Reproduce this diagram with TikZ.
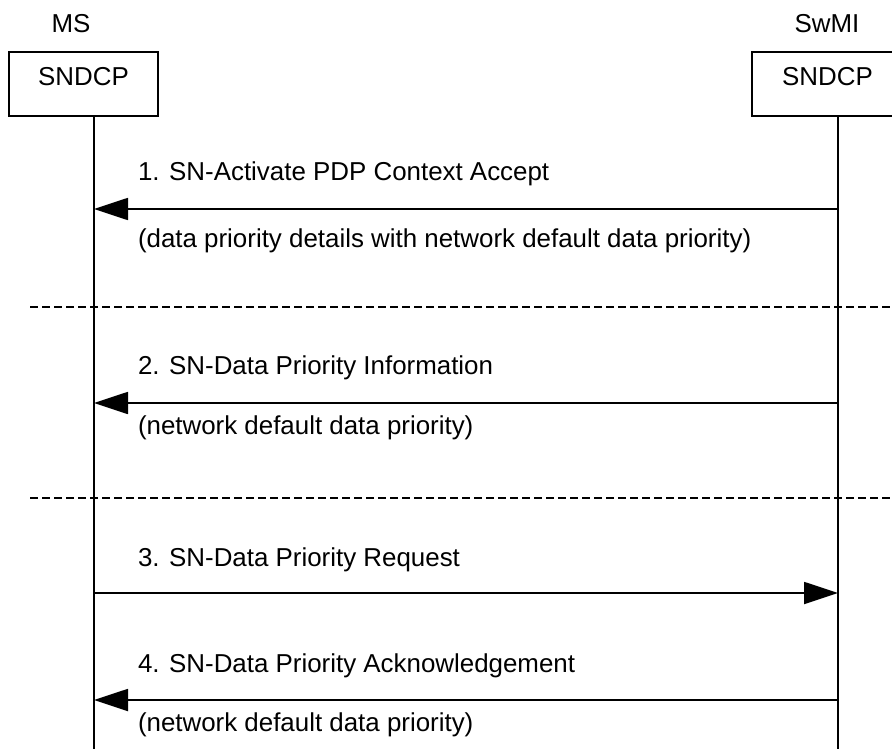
\documentclass[tikz,border=0pt]{standalone}
\usepackage{fontspec}
\setmainfont{Liberation Sans}
\usetikzlibrary{arrows.meta}
\begin{document}
\begin{tikzpicture}[x=1pt,y=-1pt,
  every node/.style={font=\fontsize{25.9}{30}\selectfont, inner sep=0pt, outer sep=0pt},
  box/.style={draw, line width=1.8pt, minimum width=149pt, minimum height=64pt},
  life/.style={line width=1.8pt},
  msg/.style={line width=1.8pt, -{Triangle[length=34pt,width=22pt]}},
  sep/.style={line width=1.5pt, dash pattern=on 8pt off 4pt},
  lbl/.style={anchor=base west}
]
\useasboundingbox (0,0) rectangle (892,749);

% entity titles
\node[anchor=base] (ms) at (71,33) {MS};
\node[anchor=base] (swmi) at (827,33) {SwMI};

% boxes
\node[box] (msbox) at (83.5,84) {};
\node[anchor=base] (mstxt) at (83.5,86) {SNDCP};
\node[box] (swbox) at (826.5,84) {};
\node[anchor=base] (swtxt) at (827.5,86) {SNDCP};

% lifelines
\coordinate (msx) at (94,0);
\coordinate (swx) at (838,0);
\coordinate (mstop) at (msbox.south -| msx);
\coordinate (swtop) at (swbox.south -| swx);
\coordinate (msbot) at (94,760);
\coordinate (swbot) at (838,760);
\draw[life] (mstop) -- (msbot);
\draw[life] (swtop) -- (swbot);

% separators
\coordinate (d1a) at (30,307);
\coordinate (d1b) at (900,307);
\coordinate (d2a) at (30,498);
\coordinate (d2b) at (900,498);
\draw[sep] (d1a) -- (d1b);
\draw[sep] (d2a) -- (d2b);

% message 1
\coordinate (m1s) at (838,209);
\coordinate (m1e) at (94,209);
\draw[msg] (m1s) -- (m1e);
\node[lbl] (l1) at (138,181) {1. SN-Activate PDP Context Accept};
\node[lbl] (l1b) at (138,247) {(data priority details with network default data priority)};

% message 2
\coordinate (m2s) at (838,403);
\coordinate (m2e) at (94,403);
\draw[msg] (m2s) -- (m2e);
\node[lbl] (l2) at (138,374) {2. SN-Data Priority Information};
\node[lbl] (l2b) at (138,434) {(network default data priority)};

% message 3
\coordinate (m3s) at (94,593);
\coordinate (m3e) at (838,593);
\draw[msg] (m3s) -- (m3e);
\node[lbl] (l3) at (138,566) {3. SN-Data Priority Request};

% message 4
\coordinate (m4s) at (838,700);
\coordinate (m4e) at (94,700);
\draw[msg] (m4s) -- (m4e);
\node[lbl] (l4) at (138,672) {4. SN-Data Priority Acknowledgement};
\node[lbl] (l4b) at (138,731) {(network default data priority)};
\end{tikzpicture}
\end{document}
